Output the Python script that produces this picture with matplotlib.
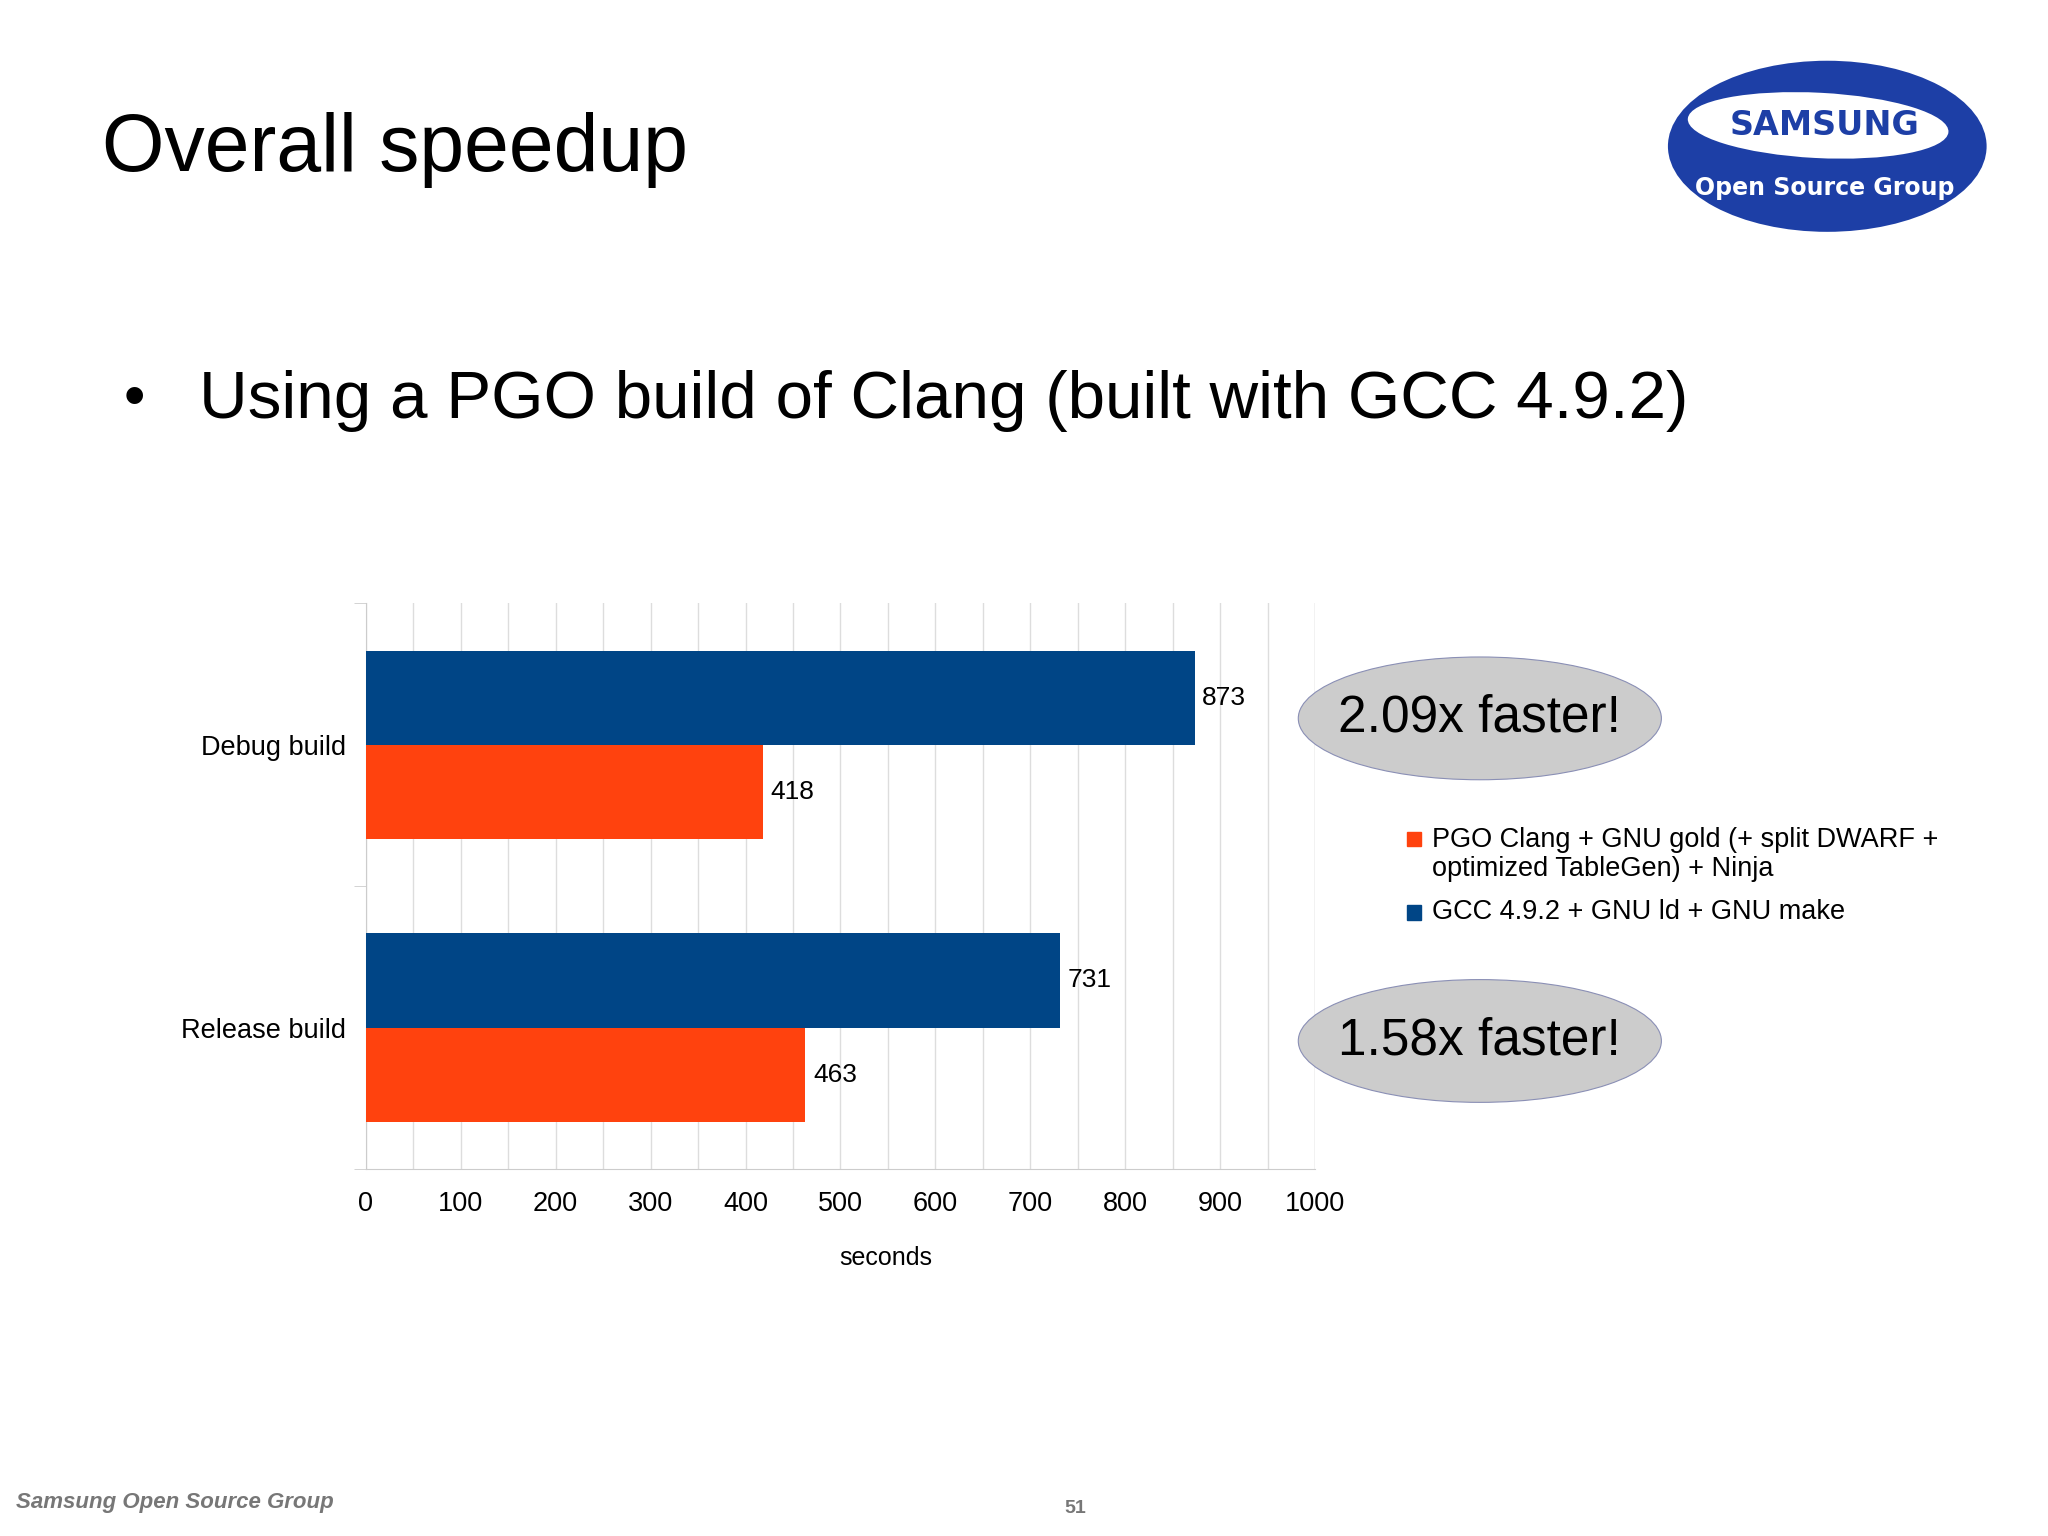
import matplotlib
matplotlib.use("Agg")
import matplotlib.pyplot as plt
from matplotlib.patches import Ellipse, Rectangle

plt.rcParams['font.family'] = ['Liberation Sans', 'DejaVu Sans']

categories = ["Release build", "Debug build"]
gcc_times = [731, 873]
clang_times = [463, 418]
speedups = ["1.58x faster!", "2.09x faster!"]
legend_labels = ["PGO Clang + GNU gold (+ split DWARF +\noptimized TableGen) + Ninja",
                 "GCC 4.9.2 + GNU ld + GNU make"]
BLUE = "#004586"
ORANGE = "#ff420e"

W, H = 1568, 1176  # layout reference pixels


def fx(x):
    return x / W


def fy(y):
    return 1 - y / H


fig = plt.figure(figsize=(20.48, 15.36), dpi=100)
fig.patch.set_facecolor("white")

fig.text(fx(78), fy(115), "Overall speedup", fontsize=58, va="center")
fig.text(fx(95), fy(307), "•", fontsize=44, va="center")
fig.text(fx(152), fy(307), "Using a PGO build of Clang (built with GCC 4.9.2)",
         fontsize=48.5, va="center")

# logo
fig.patches.append(Ellipse((fx(1399), fy(112)), fx(244), 131 / H, transform=fig.transFigure,
                           facecolor="#1d3fa6", edgecolor="none"))
fig.patches.append(Ellipse((fx(1392), fy(96)), fx(200), 50 / H, angle=-4, transform=fig.transFigure,
                           facecolor="white", edgecolor="none"))
fig.text(fx(1397), fy(96), "SAMSUNG", fontsize=24, fontweight="bold", color="#1d3fa6",
         ha="center", va="center", fontfamily="DejaVu Sans")
fig.text(fx(1397), fy(144), "Open Source Group", fontsize=17, fontweight="bold", color="white",
         ha="center", va="center", fontfamily="DejaVu Sans")

ax = fig.add_axes([fx(280), fy(895), fx(1007 - 280), (895 - 462) / H])
h = 1 / 3
pos = [0.5, 1.5]
ax.barh([p + h / 2 for p in pos], gcc_times, height=h, color=BLUE, zorder=3)
ax.barh([p - h / 2 for p in pos], clang_times, height=h, color=ORANGE, zorder=3)
for p, g, c in zip(pos, gcc_times, clang_times):
    ax.text(g + 8, p + h / 2, str(g), va="center", fontsize=19)
    ax.text(c + 8, p - h / 2, str(c), va="center", fontsize=19)

ax.set_xlim(0, 1000)
ax.set_ylim(0, 2)
ax.set_xticks(range(0, 1001, 100))
ax.set_xticks(range(50, 1000, 100), minor=True)
ax.set_yticks(pos)
ax.set_yticklabels(categories, fontsize=19.5)
ax.set_yticks([0, 1, 2], minor=True)
ax.tick_params(axis="x", labelsize=19.5, length=0, which="both", pad=16)
ax.tick_params(axis="y", which="major", length=0, pad=14)
ax.tick_params(axis="y", which="minor", length=9, color="#cccccc")
ax.grid(True, axis="x", which="both", color="#dddddd", lw=1, zorder=0)
ax.axvline(1000, color="#dddddd", lw=1, zorder=0)
for s in ["top", "right"]:
    ax.spines[s].set_visible(False)
ax.spines["left"].set_color("#cccccc")
ax.spines["bottom"].set_color("#cccccc")
ax.set_xlabel("seconds", fontsize=18)
ax.xaxis.set_label_coords((678 - 280) / 727, -(963 - 895) / 433, transform=ax.transAxes)
ax.xaxis.label.set_va("center")
ax.set_facecolor("white")

# speedup bubbles
for yc, txt in zip([797, 550], speedups):
    fig.patches.append(Ellipse((fx(1133), fy(yc)), fx(278), 94 / H, transform=fig.transFigure,
                               facecolor="#cccccc", edgecolor="#8a8fb5", lw=0.8))
    fig.text(fx(1133), fy(yc), txt, fontsize=37, ha="center", va="center")

# legend
for yc, col in [(642, ORANGE), (698, BLUE)]:
    fig.patches.append(Rectangle((fx(1077), fy(yc + 6)), fx(11), 11 / H,
                                 transform=fig.transFigure, color=col))
fig.text(fx(1096), fy(633), legend_labels[0], fontsize=19.5, va="top", linespacing=1.15)
fig.text(fx(1096), fy(698), legend_labels[1], fontsize=19.5, va="center")

fig.text(fx(12), fy(1150), "Samsung Open Source Group", fontsize=16, fontstyle="italic",
         fontweight="bold", color="#777777", va="center")
fig.text(fx(823), fy(1155), "51", fontsize=14, fontweight="bold", color="#777777",
         ha="center", va="center")

fig.savefig("out.png", dpi=100)
